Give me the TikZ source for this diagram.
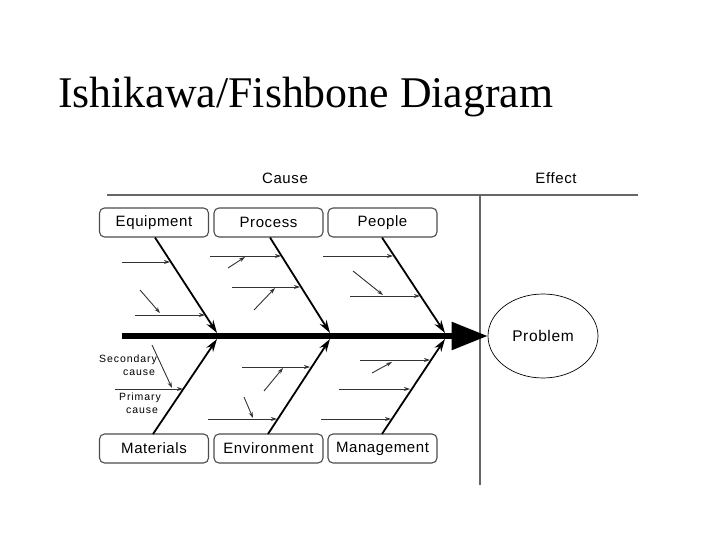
\documentclass[tikz,border=0pt]{standalone}
\usepackage{fontspec}
\setmainfont{Liberation Serif}
\newfontfamily\labfont{Liberation Sans}[LetterSpace=4]
\newfontfamily\smallfont{Liberation Sans}[LetterSpace=9]
\usetikzlibrary{arrows.meta,shapes.geometric}
\begin{document}
\begin{tikzpicture}[x=1pt,y=-1pt,
  cbox/.style={draw=black!70, line width=1.1pt, rounded corners=5pt,
    minimum width=109pt, minimum height=29pt, inner sep=0pt,
    font=\labfont\fontsize{15}{17}\selectfont},
  hdr/.style={font=\labfont\fontsize{15}{17}\selectfont, inner sep=0pt},
  smalltxt/.style={font=\smallfont\fontsize{10.5}{12}\selectfont, inner sep=0pt},
  bone/.style={line width=1.8pt, -{Stealth[length=13pt,width=8pt]}},
  sub/.style={line width=0.9pt, draw=black!80, -{Stealth[length=6pt,width=4pt]}},
  frame/.style={draw=black!60, line width=1.2pt}]
\useasboundingbox (0,0) rectangle (720,540);
% title
\node[anchor=base west, inner sep=0pt, font=\fontsize{43.8}{50}\selectfont] (title) at (58,108) {Ishikawa/Fishbone Diagram};
% frame lines
\coordinate (hl) at (107,195);
\coordinate (hr) at (638,195);
\coordinate (vt) at (480,195);
\coordinate (vb) at (480,485);
\draw[frame] (hl) -- (hr);
\draw[frame] (vt) -- (vb);
\node[hdr] (cause) at (285,178) {Cause};
\node[hdr] (effect) at (556,178) {Effect};
% boxes
\node[cbox] (equip) at (154,222.5) {Equipment};
\node[cbox] (proc) at (268.5,222.5) {Process};
\node[cbox] (people) at (382.5,222.5) {People};
\node[cbox] (mat) at (154,448.5) {Materials};
\node[cbox] (env) at (268.5,448.5) {Environment};
\node[cbox] (mgmt) at (382.5,448.5) {Management};
% effect
\node[draw, ellipse, line width=0.7pt, minimum width=110pt, minimum height=84pt, inner sep=0pt,
  font=\labfont\fontsize{15.5}{17}\selectfont] (prob) at (543,336) {Problem};
% spine
\coordinate (sp0) at (122,336);
\draw[line width=5.5pt, -{Triangle[length=36pt,width=27pt]}] (sp0) -- (prob.west);
% bone coordinates
\coordinate (eq0) at (155,237.5);  \coordinate (eq1) at (217,333);
\coordinate (pr0) at (270,237.5);  \coordinate (pr1) at (330,333);
\coordinate (pe0) at (382,237.5);  \coordinate (pe1) at (445,333);
\coordinate (ma0) at (153,434);    \coordinate (ma1) at (217,339);
\coordinate (en0) at (268,434);    \coordinate (en1) at (330,339);
\coordinate (mg0) at (382,434);    \coordinate (mg1) at (445,339);
\draw[bone] (eq0) -- (eq1);
\draw[bone] (pr0) -- (pr1);
\draw[bone] (pe0) -- (pe1);
\draw[bone] (ma0) -- (ma1);
\draw[bone] (en0) -- (en1);
\draw[bone] (mg0) -- (mg1);
% equipment causes
\coordinate (a1) at (122,262); \coordinate (b1) at (170,262);
\coordinate (a2) at (135,315); \coordinate (b2) at (205,315);
\coordinate (a3) at (140,290); \coordinate (b3) at (160,313);
\draw[sub] (a1) -- (b1);
\draw[sub] (a2) -- (b2);
\draw[sub] (a3) -- (b3);
% process causes
\coordinate (a4) at (210,256); \coordinate (b4) at (281,256);
\coordinate (a5) at (228,268); \coordinate (b5) at (245,257);
\coordinate (a6) at (232,287); \coordinate (b6) at (300,287);
\coordinate (a7) at (254,310); \coordinate (b7) at (275,288);
\draw[sub] (a4) -- (b4);
\draw[sub] (a5) -- (b5);
\draw[sub] (a6) -- (b6);
\draw[sub] (a7) -- (b7);
% people causes
\coordinate (a8) at (323,256); \coordinate (b8) at (393,256);
\coordinate (a9) at (350,296); \coordinate (b9) at (420,296);
\coordinate (a10) at (353,271); \coordinate (b10) at (383,295);
\draw[sub] (a8) -- (b8);
\draw[sub] (a9) -- (b9);
\draw[sub] (a10) -- (b10);
% materials causes
\coordinate (a11) at (115,389); \coordinate (b11) at (183,389);
\coordinate (a12) at (152,345); \coordinate (b12) at (172,388);
\draw[sub] (a11) -- (b11);
\draw[sub] (a12) -- (b12);
\node[smalltxt] (sec1) at (128,360) {Secondary};
\node[smalltxt] (sec2) at (139,373) {cause};
\node[smalltxt] (pri1) at (140,398) {Primary};
\node[smalltxt] (pri2) at (142,411) {cause};
% environment causes
\coordinate (a13) at (208,419); \coordinate (b13) at (277,419);
\coordinate (a14) at (244,397); \coordinate (b14) at (253,418);
\coordinate (a15) at (242,367); \coordinate (b15) at (310,367);
\coordinate (a16) at (264,391); \coordinate (b16) at (283,368);
\draw[sub] (a13) -- (b13);
\draw[sub] (a14) -- (b14);
\draw[sub] (a15) -- (b15);
\draw[sub] (a16) -- (b16);
% management causes
\coordinate (a17) at (360,360); \coordinate (b17) at (430,360);
\coordinate (a18) at (372,373); \coordinate (b18) at (392,362);
\coordinate (a19) at (339,389); \coordinate (b19) at (410,389);
\coordinate (a20) at (321,419); \coordinate (b20) at (391,419);
\draw[sub] (a17) -- (b17);
\draw[sub] (a18) -- (b18);
\draw[sub] (a19) -- (b19);
\draw[sub] (a20) -- (b20);
\end{tikzpicture}
\end{document}
